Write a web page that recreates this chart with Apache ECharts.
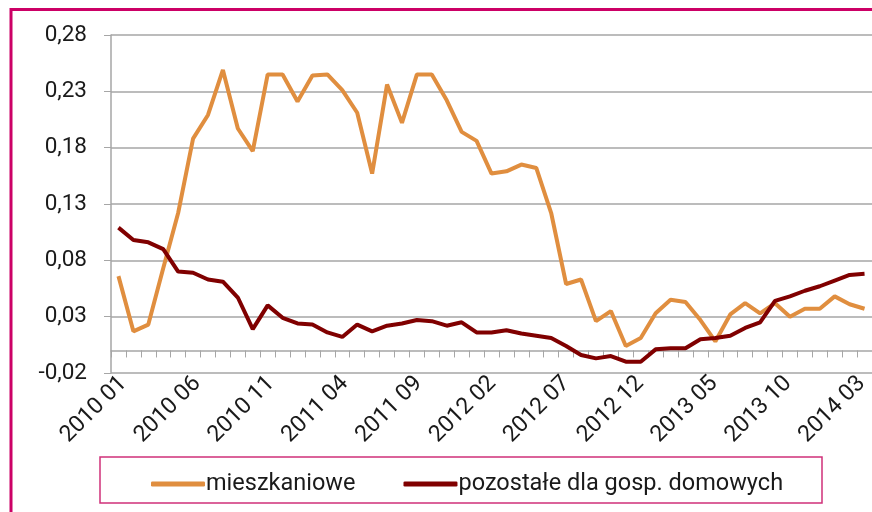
<!DOCTYPE html>
<html><head><meta charset="utf-8">
<script src="https://cdn.jsdelivr.net/npm/echarts@6/dist/echarts.min.js"></script>
<style>html,body{margin:0;padding:0;background:#fff}#c{width:872px;height:512px}</style>
</head><body><div id="c"></div>
<script>
// categories: monthly 2010 01 .. 2014 03
const categories = [
 '2010 01','2010 02','2010 03','2010 04','2010 05','2010 06','2010 07','2010 08','2010 09','2010 10','2010 11','2010 12',
 '2011 01','2011 02','2011 03','2011 04','2011 05','2011 06','2011 07','2011 08','2011 09','2011 10','2011 11','2011 12',
 '2012 01','2012 02','2012 03','2012 04','2012 05','2012 06','2012 07','2012 08','2012 09','2012 10','2012 11','2012 12',
 '2013 01','2013 02','2013 03','2013 04','2013 05','2013 06','2013 07','2013 08','2013 09','2013 10','2013 11','2013 12',
 '2014 01','2014 02','2014 03'
];
const seriesNames = ['mieszkaniowe', 'pozostałe dla gosp. domowych'];
const mieszkaniowe = [
 0.066,0.017,0.023,0.073,0.122,0.188,0.209,0.249,0.197,0.177,0.245,0.245,
 0.221,0.244,0.245,0.231,0.211,0.157,0.236,0.202,0.245,0.245,0.222,0.194,
 0.186,0.157,0.159,0.165,0.162,0.122,0.059,0.063,0.026,0.035,0.004,0.011,
 0.033,0.045,0.043,0.027,0.008,0.032,0.042,0.033,0.042,0.030,0.037,0.037,
 0.048,0.041,0.037
];
const pozostale = [
 0.109,0.098,0.096,0.090,0.070,0.069,0.063,0.061,0.047,0.019,0.040,0.029,
 0.024,0.023,0.016,0.012,0.023,0.017,0.022,0.024,0.027,0.026,0.022,0.025,
 0.016,0.016,0.018,0.015,0.013,0.011,0.004,-0.004,-0.007,-0.005,-0.010,-0.010,
 0.001,0.002,0.002,0.010,0.011,0.013,0.020,0.025,0.044,0.048,0.053,0.057,
 0.062,0.067,0.068
];
const yMin = -0.02, yMax = 0.28, yStep = 0.05;

const FONT = "Roboto, 'Open Sans', sans-serif";
const LBL_SHIFT = 5;
const chart = echarts.init(document.getElementById('c'), null, {renderer: 'canvas'});
chart.setOption({
  animation: false,
  backgroundColor: '#fff',
  grid: [
    {left: 111, right: 0, top: 35, bottom: 139, containLabel: false},
    {left: 111 + LBL_SHIFT, right: -LBL_SHIFT, top: 35, bottom: 139, containLabel: false}
  ],
  xAxis: [
    { type: 'category', data: categories, gridIndex: 0, position: 'top', boundaryGap: true,
      axisLine: {show: true, onZero: true, lineStyle: {color: '#a6a6a6', width: 1.5}},
      axisTick: {show: true, inside: true, interval: 0, length: 7, lineStyle: {color: '#a6a6a6', width: 1}},
      axisLabel: {show: false} },
    { type: 'category', data: categories, gridIndex: 1, position: 'bottom', boundaryGap: true,
      axisLine: {show: false, onZero: false}, axisTick: {show: false},
      axisLabel: {interval: 4, rotate: 45, fontSize: 23, color: '#1a1a1a', fontFamily: FONT, margin: 7} }
  ],
  yAxis: [
    { type: 'value', gridIndex: 0, min: yMin, max: yMax, interval: yStep,
      axisLine: {show: true, lineStyle: {color: '#a6a6a6', width: 1.5}},
      axisTick: {show: true, length: 7, lineStyle: {color: '#a6a6a6'}},
      splitLine: {show: true, lineStyle: {color: '#a6a6a6', width: 1.5}},
      axisLabel: {fontSize: 22.5, color: '#1a1a1a', fontFamily: FONT, margin: 24,
        formatter: v => (Math.round(v*100)/100).toFixed(2).replace('.', ',')} },
    { type: 'value', gridIndex: 1, min: yMin, max: yMax, show: false }
  ],
  legend: {
    left: 146, top: 467, itemWidth: 54, itemHeight: 5, itemGap: 48,
    icon: 'roundRect',
    textStyle: {fontSize: 23.5, lineHeight: 24, color: '#1a1a1a', fontFamily: FONT, padding: [0,0,0,-4]},
    data: seriesNames
  },
  graphic: [
    {type: 'rect', shape: {x: 100, y: 457, width: 722, height: 46},
     style: {fill: 'none', stroke: '#d0307a', lineWidth: 1.5}, silent: true},
    {type: 'polyline', shape: {points: [[11, 512], [11, 9.5], [872, 9.5]]},
     style: {fill: 'none', stroke: '#cc0066', lineWidth: 3}, silent: true}
  ],
  series: [
    {name: seriesNames[0], type: 'line', xAxisIndex: 0, yAxisIndex: 0, data: mieszkaniowe, showSymbol: false, symbol: 'none',
     lineStyle: {color: '#e08e3f', width: 4}, itemStyle: {color: '#e08e3f'}},
    {name: seriesNames[1], type: 'line', xAxisIndex: 0, yAxisIndex: 0, data: pozostale, showSymbol: false, symbol: 'none',
     lineStyle: {color: '#800000', width: 4}, itemStyle: {color: '#800000'}}
  ]
});
</script></body></html>
